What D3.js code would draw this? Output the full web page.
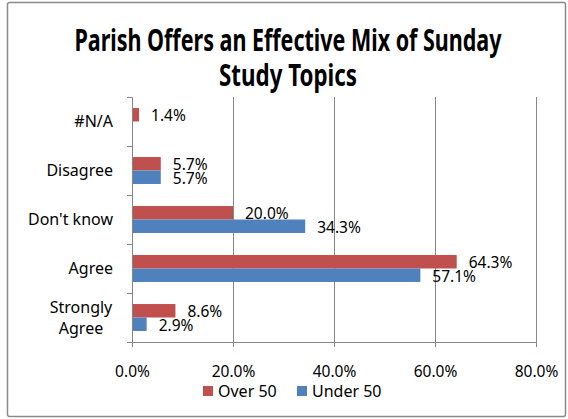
<!DOCTYPE html>
<html>
<head>
<meta charset="utf-8">
<script src="https://cdn.jsdelivr.net/npm/d3@7"></script>
<style>
  body { margin: 0; background: #fff; }
  text { font-family: "Noto Sans", "Liberation Sans", sans-serif; fill: #000; }
</style>
</head>
<body>
<script>
// chart data
const categories = ["#N/A", "Disagree", "Don't know", "Agree", "Strongly Agree"];
const seriesNames = ["Over 50", "Under 50"];
const over50 = [1.4, 5.7, 20.0, 64.3, 8.6];
const under50 = [null, 5.7, 34.3, 57.1, 2.9];
const xTicks = [0, 20, 40, 60, 80];
const colors = ["#C0504D", "#4F81BD"];

const W = 568, H = 419;
const svg = d3.select("body").append("svg").attr("width", W).attr("height", H);

// outer frame
svg.append("rect").attr("x", 7.5).attr("y", 2.5).attr("width", 558).attr("height", 414)
  .attr("fill", "#fff").attr("stroke", "#8a8a8a").attr("stroke-width", 1.5).attr("rx", 2);

// title
const title = svg.append("g").style("font-weight", "bold").style("font-size", "30px");
title.append("text").attr("x", 288).attr("y", 51).attr("text-anchor", "middle")
  .attr("textLength", 427).attr("lengthAdjust", "spacingAndGlyphs")
  .text("Parish Offers an Effective Mix of Sunday");
title.append("text").attr("x", 288).attr("y", 86).attr("text-anchor", "middle")
  .attr("textLength", 138).attr("lengthAdjust", "spacingAndGlyphs")
  .text("Study Topics");

const pLeft = 132, pRight = 536, pTop = 97, pBottom = 342;

const x = d3.scaleLinear().domain([0, 80]).range([pLeft, pRight]);
const y = d3.scaleBand().domain(categories).range([pTop, pBottom]).paddingInner(0.45).paddingOuter(0.225);
const ySub = d3.scaleBand().domain(seriesNames).range([0, y.bandwidth()]);

// gridlines
svg.append("g").selectAll("line").data(xTicks.slice(1)).join("line")
  .attr("x1", d => x(d) + 0.5).attr("x2", d => x(d) + 0.5)
  .attr("y1", pTop).attr("y2", pBottom)
  .attr("stroke", "#868686");

// bars
const rows = categories.map((c, i) => ({ c, vals: [over50[i], under50[i]] }));
const groups = svg.append("g").selectAll("g").data(rows).join("g")
  .attr("transform", d => `translate(0,${y(d.c)})`);

const items = d => d.vals.map((v, j) => ({ v, s: seriesNames[j], j })).filter(e => e.v !== null);

groups.selectAll("rect").data(items).join("rect")
  .attr("x", x(0)).attr("y", e => ySub(e.s))
  .attr("width", e => x(e.v) - x(0)).attr("height", ySub.bandwidth())
  .attr("fill", e => colors[e.j]);

groups.selectAll("text").data(items).join("text")
  .attr("x", e => x(e.v) + 12).attr("y", e => ySub(e.s) + ySub.bandwidth() / 2 + 1)
  .attr("dy", "0.35em").style("font-size", "15.5px")
  .text(e => e.v.toFixed(1) + "%");

// axes
const xAxis = svg.append("g").attr("transform", `translate(0,${pBottom})`)
  .call(d3.axisBottom(x).tickValues(xTicks).tickSize(5).tickPadding(19).tickFormat(d => d.toFixed(1) + "%"));
xAxis.select(".domain").attr("stroke", "#868686");
xAxis.selectAll(".tick line").attr("stroke", "#868686");
xAxis.attr("font-family", null).attr("font-size", null);
xAxis.selectAll("text").style("font-size", "15.5px");

const yTickVals = d3.range(categories.length + 1);
const yPos = d3.scaleLinear().domain([0, categories.length]).range([pTop, pBottom]);
const yAxis = svg.append("g").attr("transform", `translate(${pLeft},0)`)
  .call(d3.axisLeft(yPos).tickValues(yTickVals).tickSize(5).tickFormat(""));
yAxis.select(".domain").attr("stroke", "#868686");
yAxis.selectAll(".tick line").attr("stroke", "#868686");

// category labels
const catLabels = svg.append("g").style("font-size", "16px");
categories.forEach(c => {
  const cy = y(c) + y.bandwidth() / 2;
  const words = c === "Strongly Agree" ? ["Strongly", "Agree"] : [c];
  if (words.length === 1) {
    catLabels.append("text").attr("x", 113).attr("y", cy).attr("dy", "0.35em")
      .attr("text-anchor", "end").text(c);
  } else {
    words.forEach((w, k) => {
      catLabels.append("text").attr("x", 81).attr("y", cy + (k - 0.5) * 21).attr("dy", "0.35em")
        .attr("text-anchor", "middle").text(w);
    });
  }
});

// legend
const legend = svg.append("g").style("font-size", "16px");
const legX = [203, 297];
seriesNames.forEach((s, j) => {
  legend.append("rect").attr("x", legX[j]).attr("y", 386).attr("width", 10).attr("height", 10).attr("fill", colors[j]);
  legend.append("text").attr("x", legX[j] + 15).attr("y", 391).attr("dy", "0.35em").text(s);
});
</script>
</body>
</html>
